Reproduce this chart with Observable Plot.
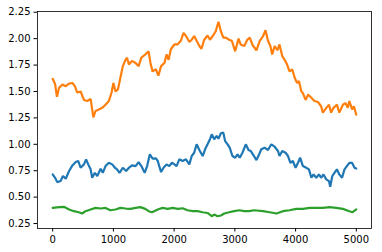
<!DOCTYPE html>
<html><head><meta charset="utf-8">
<script src="https://cdn.jsdelivr.net/npm/d3@7"></script>
<script src="https://cdn.jsdelivr.net/npm/@observablehq/plot@0.6"></script>
<style>body{margin:0;background:#fff}</style>
</head><body><div id="chart"></div>
<script>
const orangeX = [0,40,70,105,160,215,270,325,365,405,460,515,570,625,650,670,705,760,815,870,925,970,1000,1035,1075,1115,1155,1200,1225,1255,1305,1365,1415,1460,1525,1580,1610,1645,1700,1740,1785,1840,1875,1910,1945,2005,2055,2110,2155,2195,2250,2290,2330,2370,2415,2450,2495,2550,2590,2630,2685,2730,2770,2810,2850,2905,2950,3005,3060,3095,3155,3205,3245,3290,3355,3410,3465,3505,3545,3585,3615,3655,3700,3735,3780,3820,3860,3900,3945,3985,4025,4055,4095,4120,4165,4205,4260,4310,4370,4420,4450,4505,4550,4585,4625,4680,4720,4780,4820,4860,4885,4930,4960,4999];
const orangeY = [1.62,1.57,1.45,1.535,1.565,1.55,1.575,1.58,1.55,1.49,1.50,1.42,1.41,1.43,1.33,1.255,1.315,1.33,1.345,1.375,1.41,1.49,1.58,1.50,1.52,1.63,1.74,1.80,1.82,1.755,1.79,1.77,1.74,1.82,1.85,1.88,1.77,1.69,1.71,1.65,1.74,1.77,1.85,1.80,1.90,1.945,1.945,1.98,2.055,2.025,1.97,1.99,2.025,1.98,1.93,1.905,1.99,2.03,1.99,2.02,2.07,2.16,2.07,2.01,2.01,1.99,1.98,1.88,2.00,1.945,1.93,1.99,2.01,1.94,1.89,1.98,2.025,2.08,1.98,1.93,1.85,1.93,1.89,1.945,1.835,1.80,1.755,1.69,1.71,1.63,1.58,1.60,1.50,1.485,1.42,1.47,1.44,1.41,1.40,1.36,1.30,1.345,1.375,1.30,1.345,1.375,1.30,1.375,1.39,1.345,1.41,1.33,1.36,1.28];

const blueX = [0,40,75,130,170,215,270,325,380,420,460,515,550,585,625,650,695,735,790,825,870,925,980,1025,1060,1100,1155,1210,1255,1305,1365,1415,1460,1515,1555,1600,1645,1700,1730,1755,1785,1825,1875,1920,1965,2005,2040,2085,2140,2195,2250,2290,2330,2370,2415,2470,2510,2550,2590,2620,2660,2700,2730,2770,2810,2840,2880,2915,2960,3005,3045,3080,3125,3180,3225,3260,3315,3355,3400,3435,3490,3545,3600,3655,3710,3735,3780,3835,3875,3915,3955,4000,4040,4075,4120,4175,4220,4260,4295,4340,4385,4420,4460,4505,4550,4570,4605,4640,4680,4720,4765,4805,4845,4885,4930,4970,4999];
const blueY = [0.715,0.683,0.642,0.652,0.70,0.674,0.747,0.80,0.832,0.842,0.778,0.81,0.858,0.81,0.763,0.683,0.73,0.70,0.768,0.73,0.794,0.825,0.81,0.778,0.763,0.73,0.778,0.747,0.778,0.80,0.794,0.832,0.794,0.73,0.794,0.905,0.865,0.867,0.842,0.794,0.737,0.778,0.81,0.794,0.825,0.81,0.794,0.858,0.842,0.858,0.81,0.889,0.92,1.00,0.946,0.889,0.953,1.00,1.048,1.095,1.048,1.079,1.053,1.105,1.11,1.03,1.00,0.968,0.889,0.873,0.905,0.873,0.92,1.00,0.946,0.937,0.889,0.85,0.905,0.953,0.968,0.946,1.00,0.977,0.937,0.889,0.937,0.92,0.889,0.825,0.842,0.778,0.825,0.873,0.794,0.778,0.763,0.683,0.715,0.683,0.715,0.683,0.715,0.668,0.652,0.598,0.70,0.73,0.763,0.715,0.683,0.763,0.794,0.825,0.825,0.778,0.77];

const greenX = [0,105,185,270,350,430,485,540,625,705,790,870,950,1035,1115,1200,1280,1365,1445,1525,1580,1635,1730,1810,1895,1975,2060,2140,2220,2305,2385,2470,2550,2620,2660,2715,2770,2825,2905,2990,3070,3155,3235,3315,3465,3575,3685,3790,3900,4010,4120,4230,4340,4450,4560,4670,4780,4885,4940,4999];
const greenY = [0.398,0.405,0.408,0.383,0.367,0.357,0.345,0.367,0.383,0.398,0.392,0.398,0.376,0.383,0.398,0.392,0.389,0.398,0.405,0.389,0.367,0.357,0.383,0.398,0.389,0.398,0.389,0.395,0.376,0.367,0.367,0.357,0.35,0.319,0.335,0.319,0.326,0.345,0.357,0.367,0.376,0.367,0.367,0.376,0.367,0.357,0.345,0.367,0.376,0.389,0.389,0.398,0.398,0.398,0.405,0.398,0.389,0.367,0.357,0.383];

const xTicks = [0, 1000, 2000, 3000, 4000, 5000];
const yTicks = [0.25, 0.50, 0.75, 1.00, 1.25, 1.50, 1.75, 2.00, 2.25];
const seriesNames = ["s0", "s1", "s2"];
const seriesColors = ["#1f77b4", "#ff7f0e", "#2ca02c"];

const series = [
  {name: "s0", xs: blueX, ys: blueY},
  {name: "s1", xs: orangeX, ys: orangeY},
  {name: "s2", xs: greenX, ys: greenY}
];
const rows = series.flatMap(s => s.xs.map((x, i) => ({x, y: s.ys[i], s: s.name})));

const chart = Plot.plot({
  width: 382, height: 252,
  marginLeft: 37, marginRight: 11, marginTop: 11, marginBottom: 24,
  style: {fontFamily: "DejaVu Sans", fontSize: "10px", color: "#000", background: "#fff"},
  x: {domain: [-250, 5250], ticks: xTicks, tickFormat: d => String(d), label: null, tickSize: 3.5, tickPadding: 3.5},
  y: {domain: [0.203, 2.257], ticks: yTicks, tickFormat: ".2f", label: null, tickSize: 3.5, tickPadding: 3.5},
  color: {domain: seriesNames, range: seriesColors},
  marks: [
    Plot.lineY(rows, {x: "x", y: "y", z: "s", stroke: "s", strokeWidth: 2.2, strokeLinejoin: "miter"}),
    Plot.frame({stroke: "#000", strokeWidth: 0.8})
  ]
});
document.getElementById("chart").appendChild(chart);
</script>
</body></html>
